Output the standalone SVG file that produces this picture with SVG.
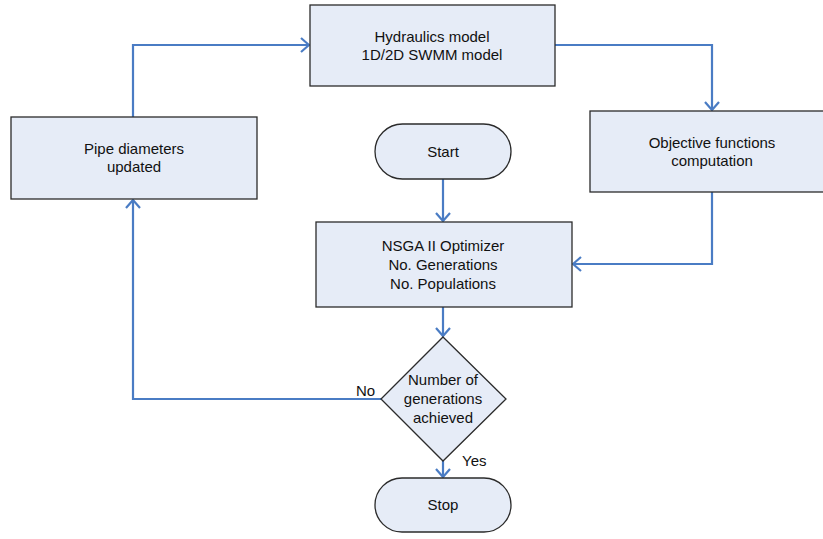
<svg xmlns="http://www.w3.org/2000/svg" width="823" height="539" viewBox="0 0 823 539">
<style>
.box{fill:#E6ECF7;stroke:#2B2B2B;stroke-width:1.3}
.t{font-family:"Liberation Sans",Arial,sans-serif;font-size:15px;fill:#111;text-anchor:middle}
.c{fill:none;stroke:#4A7CC4;stroke-width:2.2}
.l{font-family:"Liberation Sans",Arial,sans-serif;font-size:15px;fill:#111}
</style>
<defs>
<marker id="a" viewBox="0 0 10 16" refX="9" refY="8" markerWidth="10" markerHeight="16" markerUnits="userSpaceOnUse" orient="auto">
<path d="M1,1 L9,8 L1,15" fill="none" stroke="#4A7CC4" stroke-width="2.2"/>
</marker>
</defs>
<rect width="823" height="539" fill="#fff"/>
<g id="connectors">
<path class="c" d="M133,117 V45 H309" marker-end="url(#a)"/>
<path class="c" d="M555,45 H712 V110" marker-end="url(#a)"/>
<path class="c" d="M712,192 V264 H573" marker-end="url(#a)"/>
<path class="c" d="M443,179 V221" marker-end="url(#a)"/>
<path class="c" d="M443,307 V336" marker-end="url(#a)"/>
<path class="c" d="M443,461 V477" marker-end="url(#a)"/>
<path class="c" d="M381,399 H133 V200" marker-end="url(#a)"/>
<text class="l" x="356" y="396">No</text>
<text class="l" x="462" y="466">Yes</text>
</g>
<g id="hydraulics">
<rect class="box" x="310" y="5" width="245" height="81"/>
<text class="t" x="432" y="42">Hydraulics model</text>
<text class="t" x="432" y="60">1D/2D SWMM model</text>
</g>
<g id="pipe">
<rect class="box" x="11" y="117" width="246" height="82"/>
<text class="t" x="134" y="154">Pipe diameters</text>
<text class="t" x="134" y="172">updated</text>
</g>
<g id="objective">
<rect class="box" x="590" y="111" width="245" height="81"/>
<text class="t" x="712" y="148">Objective functions</text>
<text class="t" x="712" y="166">computation</text>
</g>
<g id="start">
<rect class="box" x="375" y="124" width="136" height="55" rx="27.5"/>
<text class="t" x="443" y="157">Start</text>
</g>
<g id="nsga">
<rect class="box" x="316" y="222" width="256" height="85"/>
<text class="t" x="443" y="251">NSGA II Optimizer</text>
<text class="t" x="443" y="270">No. Generations</text>
<text class="t" x="443" y="289">No. Populations</text>
</g>
<g id="decision">
<polygon class="box" points="443,337 506,399 443,461 381,399"/>
<text class="t" x="443" y="385">Number of</text>
<text class="t" x="443" y="404">generations</text>
<text class="t" x="443" y="423">achieved</text>
</g>
<g id="stop">
<rect class="box" x="375" y="478" width="136" height="54" rx="27"/>
<text class="t" x="443" y="510">Stop</text>
</g>
</svg>
